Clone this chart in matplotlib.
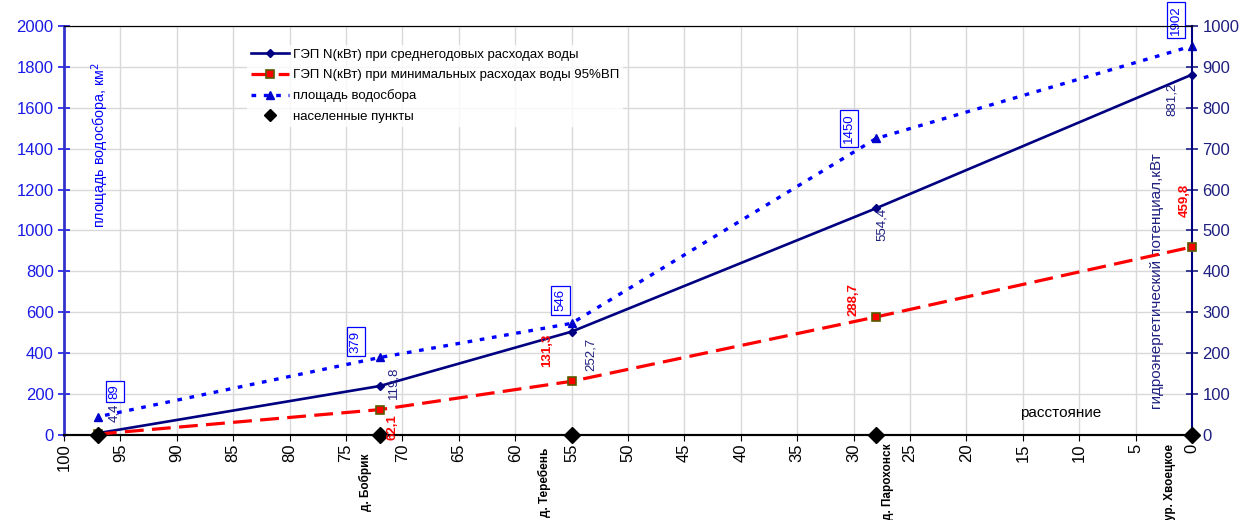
import matplotlib
matplotlib.use('Agg')
import matplotlib.pyplot as plt
from matplotlib.lines import Line2D

plt.rcParams['font.family'] = ['Liberation Sans', 'DejaVu Sans']

# ---- data ----
distance = [97, 72, 55, 28, 0]
area = [89, 379, 546, 1450, 1902]
power_mean = [4.4, 119.8, 252.7, 554.4, 881.2]
power_min = [2.2, 62.1, 131.3, 288.7, 459.8]
settlement_y = [0, 0, 0, 0, 0]
settlements = ['', 'д. Бобрик', 'д. Теребень', 'д. Парохонск', 'ур. Хвоецкое']

area_labels = ['89', '379', '546', '1450', '1902']
mean_labels = ['4,4', '119,8', '252,7', '554,4', '881,2']
min_labels = ['', '62,1', '131,3', '288,7', '459,8']

legend_labels = ['ГЭП N(кВт) при среднегодовых расходах воды',
                 'ГЭП N(кВт) при минимальных расходах воды 95%ВП',
                 'площадь водосбора',
                 'населенные пункты']

# ---- label offsets (pixels) ----
area_off = [(17, 25), (-24, 16), (-11, 23), (-27, 10), (-16, 26)]
mean_off = [(16, 20), (14, 3), (19, -23), (6, -16), (-20, -25)]
min_off = [(0, 0), (13, -18), (-24, 31), (-23, 17), (-7, 47)]
settle_off = [0, -14, -27, 12, -22]

NAVY = '#000080'
BLUE = '#0000FF'
RED = '#FF0000'
LBLUE = '#1a1ae6'
RNAVY = '#1f1f80'

W, H = 1245, 520
fig = plt.figure(figsize=(W / 100, H / 100), dpi=100)
ax = fig.add_axes([64 / W, 85 / H, 1128 / W, 409 / H])
ax2 = ax.twinx()

ax.set_xlim(100, 0)
ax.set_ylim(0, 2000)
ax2.set_ylim(0, 1000)

ax.set_xticks(range(0, 101, 5))
ax.set_yticks(range(0, 2001, 200))
ax2.set_yticks(range(0, 1001, 100))
ax.grid(True, color='#d9d9d9', lw=1)
ax.set_axisbelow(True)

ax.tick_params(axis='x', labelrotation=90, labelsize=12, length=4, pad=2, colors='black')
ax.tick_params(axis='y', labelsize=12, colors=LBLUE, direction='inout', length=8, width=1.2)
ax2.tick_params(axis='y', labelsize=12, colors=RNAVY, direction='inout', length=8, width=1.2)

for a in (ax, ax2):
    a.spines['top'].set_color('black')
    a.spines['bottom'].set_color('black')
    a.spines['bottom'].set_linewidth(1.5)
ax.spines['left'].set_color('#3333cc')
ax.spines['left'].set_linewidth(2)
ax.spines['right'].set_visible(False)
ax2.spines['left'].set_visible(False)
ax2.spines['right'].set_color(NAVY)
ax2.spines['right'].set_linewidth(1.5)

# area (left axis)
l_area, = ax.plot(distance, area, color=BLUE, ls=(1.5, (1.4, 2.3)), lw=2.4,
                  dash_capstyle='butt', marker='^', ms=6, mfc='#0000cc', mec='#0000cc',
                  clip_on=False, zorder=3)

# power (right axis)
l_mean, = ax2.plot(distance, power_mean, color=NAVY, lw=1.9, marker='D', ms=4.5,
                   mfc=NAVY, mec=NAVY, clip_on=False, zorder=4)
l_min, = ax2.plot(distance, power_min, color=RED, lw=2.3, ls=(0, (5.9, 2.6)),
                  marker='s', ms=6, mfc=RED, mec='#5a5a00', mew=1.2,
                  clip_on=False, zorder=4)
l_set, = ax2.plot(distance, settlement_y, lw=0, marker='D', ms=8, mfc='black',
                  mec='black', clip_on=False, zorder=6)

# data labels
for x, y, t, off in zip(distance, area, area_labels, area_off):
    ax.annotate(t, (x, y), xytext=off, textcoords='offset pixels', rotation=90,
                ha='center', va='center', fontsize=9.5, color=BLUE,
                bbox=dict(boxstyle='square,pad=0.25', fc='white', ec=BLUE, lw=0.9),
                zorder=7)
for x, y, t, off in zip(distance, power_mean, mean_labels, mean_off):
    ax2.annotate(t, (x, y), xytext=off, textcoords='offset pixels', rotation=90,
                 ha='center', va='center', fontsize=9.5, color=RNAVY, zorder=7)
for x, y, t, off in zip(distance, power_min, min_labels, min_off):
    if t:
        ax2.annotate(t, (x, y), xytext=off, textcoords='offset pixels', rotation=90,
                     ha='center', va='center', fontsize=9.5, color=RED,
                     fontweight='bold', zorder=7)

# settlement names below the axis
for x, t, dx in zip(distance, settlements, settle_off):
    if t:
        ax.annotate(t, (x, 0), xycoords=('data', 'axes fraction'), xytext=(dx, -47),
                    textcoords='offset pixels', rotation=90, ha='center', va='center',
                    fontsize=8.5, fontweight='bold', color='black', annotation_clip=False)

# axis titles inside plot
ax.text(0.0319, 0.709, 'площадь водосбора, км$^2$', transform=ax.transAxes, rotation=90,
        ha='center', va='center', fontsize=10.3, color=BLUE)
ax.text(0.969, 0.3765, 'гидроэнергетический потенциал,кВт', transform=ax.transAxes,
        rotation=90, ha='center', va='center', fontsize=11, color=RNAVY, zorder=8)
ax.text(0.8839, 0.0538, 'расстояние', transform=ax.transAxes, ha='center', va='center',
        fontsize=11, color='black')

# legend
h_mean = Line2D([], [], color=NAVY, lw=1.9, marker='D', ms=4.5, mfc=NAVY, mec=NAVY)
h_min = Line2D([], [], color=RED, lw=2.3, ls=(0, (5.9, 2.6)), marker='s', ms=6,
               mfc=RED, mec='#5a5a00', mew=1.2)
h_area = Line2D([], [], color=BLUE, lw=2.4, ls=(0, (1.4, 2.3)), marker='^', ms=6,
                mfc='#0000cc', mec='#0000cc')
h_set = Line2D([], [], lw=0, marker='D', ms=6, mfc='black', mec='black')
leg = ax2.legend([h_mean, h_min, h_area, h_set], legend_labels, loc='upper left',
                 bbox_to_anchor=((240 - 64) / 1128, (435 - 38) / 409), fontsize=9.5,
                 frameon=True, fancybox=False, handlelength=2.9, handletextpad=0.3,
                 labelspacing=0.62, borderpad=0.3)
leg.get_frame().set_facecolor('white')
leg.get_frame().set_edgecolor('none')
leg.set_zorder(10)

fig.savefig('out.png', dpi=100)
